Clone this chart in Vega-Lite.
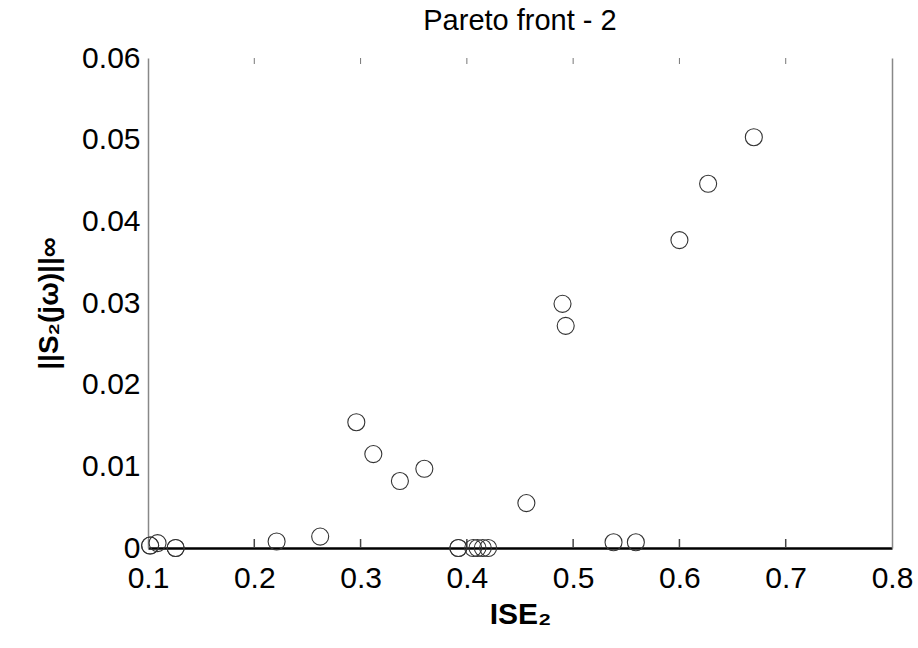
{
  "$schema": "https://vega.github.io/schema/vega-lite/v6.json",
  "width": 744,
  "height": 490,
  "autosize": {"type": "none"},
  "padding": {"left": 148, "top": 58, "right": 26, "bottom": 100},
  "background": "white",
  "config": {
    "view": {"stroke": null},
    "font": "Liberation Sans",
    "axis": {"grid": false, "labelFont": "Liberation Sans", "titleFont": "Liberation Sans"}
  },
  "title": {
    "text": "Pareto front - 2",
    "fontSize": 29,
    "fontWeight": "normal",
    "font": "Liberation Sans",
    "color": "black",
    "anchor": "middle",
    "offset": 7
  },
  "datasets": {
    "points": [
      {"ise": 0.102, "s": 0.0003},
      {"ise": 0.102, "s": 0.0003},
      {"ise": 0.109, "s": 0.0006},
      {"ise": 0.126, "s": 0.0},
      {"ise": 0.126, "s": 0.0},
      {"ise": 0.221, "s": 0.0008},
      {"ise": 0.262, "s": 0.0014},
      {"ise": 0.296, "s": 0.0154},
      {"ise": 0.312, "s": 0.0115},
      {"ise": 0.337, "s": 0.0082},
      {"ise": 0.36, "s": 0.0097},
      {"ise": 0.392, "s": 0.0},
      {"ise": 0.392, "s": 0.0},
      {"ise": 0.406, "s": 0.0},
      {"ise": 0.41, "s": 0.0},
      {"ise": 0.415, "s": 0.0},
      {"ise": 0.42, "s": 0.0},
      {"ise": 0.456, "s": 0.0055},
      {"ise": 0.49, "s": 0.0299},
      {"ise": 0.493, "s": 0.0272},
      {"ise": 0.538, "s": 0.0007},
      {"ise": 0.559, "s": 0.0007},
      {"ise": 0.6, "s": 0.0377},
      {"ise": 0.627, "s": 0.0446},
      {"ise": 0.67, "s": 0.0503}
    ],
    "ticks": [
      {"t": 0.2}, {"t": 0.3}, {"t": 0.4}, {"t": 0.5}, {"t": 0.6}, {"t": 0.7}
    ]
  },
  "layer": [
    {
      "data": {"name": "ticks"},
      "mark": {"type": "rule", "color": "#444", "strokeWidth": 1.5, "opacity": 1},
      "encoding": {
        "x": {"field": "t", "type": "quantitative", "scale": {"domain": [0.1, 0.8], "nice": false, "zero": false}, "axis": null},
        "y": {"datum": 0, "type": "quantitative", "scale": {"domain": [0, 0.06], "nice": false}, "axis": null},
        "y2": {"datum": 0.0011}
      }
    },
    {
      "data": {"name": "points"},
      "mark": {"type": "point", "shape": "circle", "filled": false, "size": 290, "stroke": "#333", "strokeWidth": 1.1, "opacity": 1, "clip": false},
      "encoding": {
        "x": {
          "field": "ise", "type": "quantitative",
          "scale": {"domain": [0.1, 0.8], "nice": false, "zero": false},
          "axis": {
            "orient": "bottom",
            "title": "ISE₂",
            "titleFontSize": 30,
            "titleFontWeight": "bold",
            "titleColor": "black",
            "titlePadding": 6,
            "values": [0.1, 0.2, 0.3, 0.4, 0.5, 0.6, 0.7, 0.8],
            "format": "~g",
            "labelFontSize": 30,
            "labelColor": "black",
            "labelPadding": 15,
            "labelFlush": false,
            "domainColor": "black",
            "domainWidth": 2.5,
            "ticks": false
          }
        },
        "y": {
          "field": "s", "type": "quantitative",
          "scale": {"domain": [0, 0.06], "nice": false},
          "axis": {
            "orient": "left",
            "title": "||S₂(jω)||∞",
            "titleFontSize": 28,
            "titleFontWeight": "bold",
            "titleColor": "black",
            "titlePadding": 18,
            "values": [0, 0.01, 0.02, 0.03, 0.04, 0.05, 0.06],
            "format": "~g",
            "labelFontSize": 30,
            "labelColor": "black",
            "labelPadding": 8,
            "labelFlush": false,
            "ticks": false,
            "domainColor": "#888",
            "domainWidth": 1.5
          }
        }
      }
    },
    {
      "data": {"name": "ticks"},
      "mark": {"type": "tick", "orient": "vertical", "size": 12, "thickness": 1, "color": "#777", "opacity": 1, "clip": true},
      "encoding": {
        "x": {"field": "t", "type": "quantitative", "scale": {"domain": [0.1, 0.8], "nice": false, "zero": false}, "axis": null},
        "y": {
          "datum": 0.06, "type": "quantitative",
          "scale": {"domain": [0, 0.06], "nice": false},
          "axis": {
            "orient": "right",
            "title": null,
            "labels": false,
            "ticks": false,
            "domainColor": "#888",
            "domainWidth": 1.5
          }
        }
      }
    }
  ],
  "resolve": {"axis": {"x": "independent", "y": "independent"}}
}
